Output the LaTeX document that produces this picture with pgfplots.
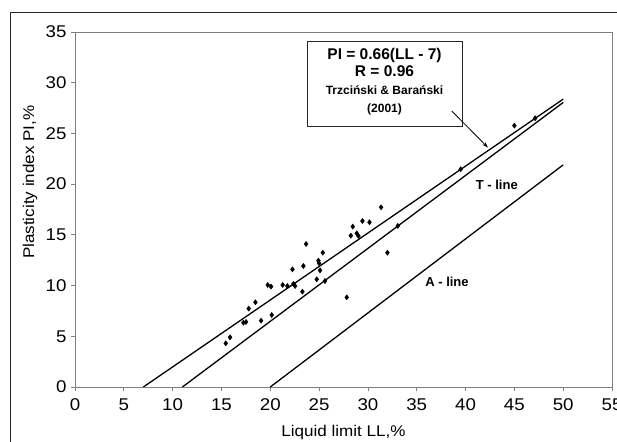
\documentclass[border=0pt]{standalone}
\usepackage{fontspec}
\setmainfont{Liberation Sans}[FakeStretch=1.1]
\newfontfamily\boxfont{Liberation Sans}
\usepackage{pgfplots}
\pgfplotsset{compat=1.18}
\usetikzlibrary{arrows.meta}
\pgfplotstableread{
x y
15.44 4.31
15.88 4.90
17.25 6.34
17.52 6.41
17.79 7.73
18.48 8.35
19.06 6.54
19.74 10.06
20.08 9.90
20.15 7.10
21.27 10.06
21.75 9.96
22.27 11.60
22.37 10.16
22.54 9.96
23.29 9.40
23.39 11.93
23.67 14.10
24.76 10.62
24.93 12.46
25.00 12.20
25.10 11.50
25.38 13.24
25.60 10.45
27.83 8.84
28.25 14.92
28.45 15.81
28.86 15.15
29.03 14.89
29.44 16.37
30.16 16.24
31.35 17.72
32.00 13.24
33.06 15.88
39.50 21.47
45.00 25.77
47.13 26.50
}\pts
\begin{document}
\begin{tikzpicture}[x=1pt,y=1pt]
\path[use as bounding box] (0,0) rectangle (617,441);
\draw[line width=1pt, black!85] (10,-5) -- (10,428) -- (630,428);
\begin{axis}[
  at={(75pt,54pt)}, anchor=south west,
  width=537pt, height=355pt, scale only axis,
  xmin=0, xmax=55, ymin=0, ymax=35,
  xtick={0,5,...,55}, ytick={0,5,...,35},
  axis line style={draw=gray, line width=0.8pt},
  tick style={draw=gray, line width=0.8pt},
  tick align=outside, major tick length=4pt,
  tick pos=left,
  /pgf/number format/assume math mode=true,
  tick label style={font=\fontsize{17}{19}\selectfont, black},
  xticklabel style={yshift=-4pt},
  yticklabel style={xshift=-1pt},
  label style={font=\fontsize{15.5}{17}\selectfont},
  xlabel={Liquid limit LL,\%},
  ylabel={Plasticity index PI,\%},
  xlabel style={at={(axis description cs:0.5,-0.127)}, anchor=center},
  ylabel style={at={(axis description cs:-0.0838,0.577)}, anchor=center},
  clip=false,
]
\addplot[black, line width=1.3pt] coordinates {(7,0) (50,28.38)};
\addplot[black, line width=1.3pt] coordinates {(11,0) (50,28.05)};
\addplot[black, line width=1.3pt] coordinates {(20,0) (50,21.9)};
\addplot[only marks, mark=diamond*, mark size=2.6pt, black] table {\pts};
\draw[fill=white, draw=black!85, line width=0.8pt] (axis cs:23.8,34.1) rectangle (axis cs:39.65,25.7);
\node[anchor=base, inner sep=0, font=\boxfont\bfseries\fontsize{15.5}{17}\selectfont] at (axis cs:31.7,32.26) {PI = 0.66(LL - 7)};
\node[anchor=base, inner sep=0, font=\boxfont\bfseries\fontsize{15.5}{17}\selectfont] at (axis cs:31.7,30.58) {R = 0.96};
\node[anchor=base, inner sep=0, font=\boxfont\bfseries\fontsize{12}{14}\selectfont] at (axis cs:31.7,28.86) {Trzciński \& Barański};
\node[anchor=base, inner sep=0, font=\boxfont\bfseries\fontsize{12}{14}\selectfont] at (axis cs:31.7,27.08) {(2001)};
\draw[line width=0.8pt, -{Stealth[length=6pt,width=4pt]}] (axis cs:38.6,27.2) -- (axis cs:42.3,23.6);
\node[font=\boxfont\bfseries\fontsize{13}{15}\selectfont] at (axis cs:43.2,19.9) {T - line};
\node[font=\boxfont\bfseries\fontsize{13}{15}\selectfont] at (axis cs:38.1,10.4) {A - line};
\end{axis}
\end{tikzpicture}
\end{document}
